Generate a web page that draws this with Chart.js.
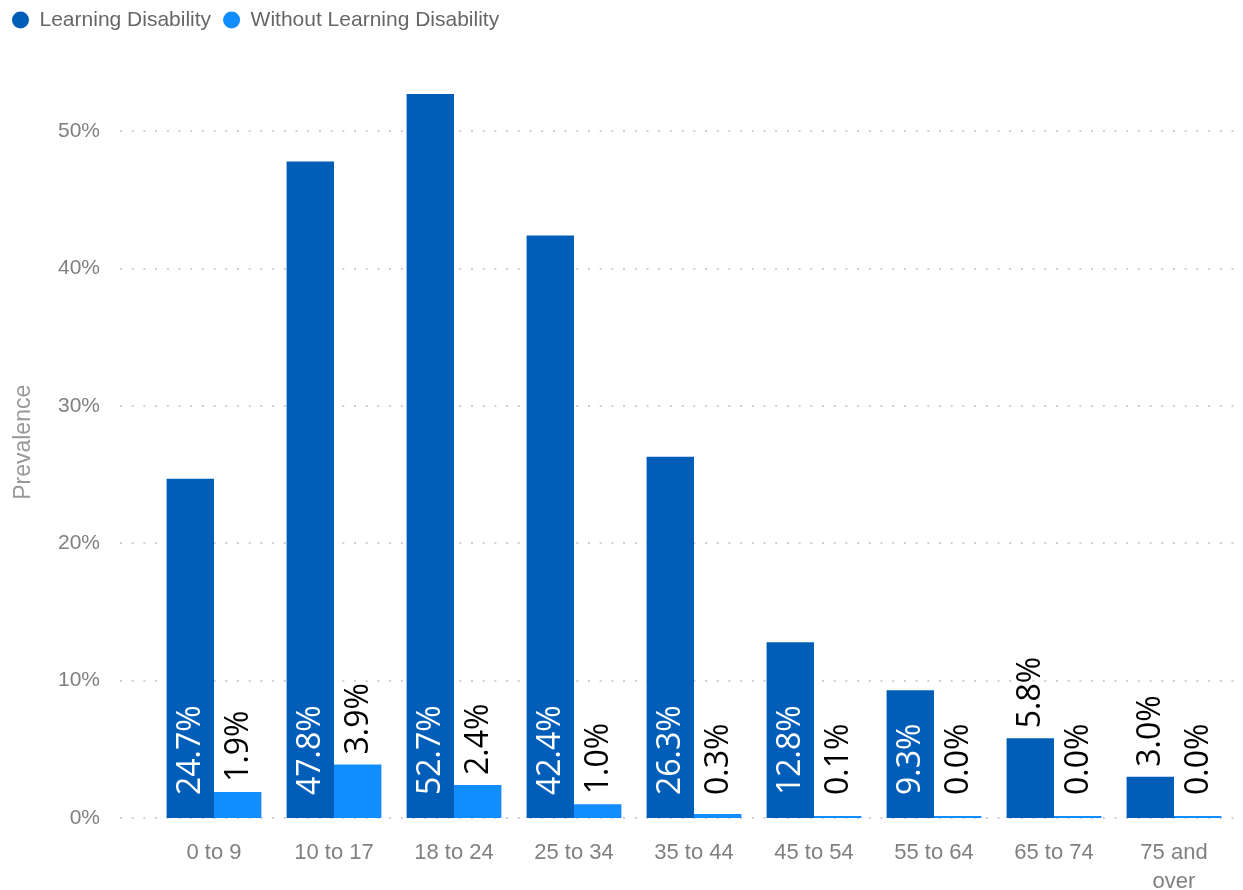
<!DOCTYPE html>
<html>
<head>
<meta charset="utf-8">
<script src="https://cdn.jsdelivr.net/npm/chart.js@4"></script>
<style>
  html, body { margin: 0; padding: 0; background: #ffffff; }
  #wrap { width: 1243px; height: 890px; position: relative; }
</style>
</head>
<body>
<div id="wrap"><canvas id="c" width="1243" height="890"></canvas></div>
<script>
const categories = ['0 to 9', '10 to 17', '18 to 24', '25 to 34', '35 to 44', '45 to 54', '55 to 64', '65 to 74', ['75 and', 'over']];
const withLD = [24.7, 47.8, 52.7, 42.4, 26.3, 12.8, 9.3, 5.8, 3.0];
const withoutLD = [1.9, 3.9, 2.4, 1.0, 0.3, 0.1, 0.0, 0.0, 0.0];
const seriesNames = ['Learning Disability', 'Without Learning Disability'];
const yTicks = [0, 10, 20, 30, 40, 50];

const DARK = '#005EB8';
const LIGHT = '#118DFF';

const legendHeightPlugin = {
  id: 'legendHeight',
  beforeInit(chart) {
    const lg = chart.legend;
    if (lg) {
      const origFit = lg.fit.bind(lg);
      lg.fit = function () { origFit(); this.height = 58; };
      const origDraw = lg.draw.bind(lg);
      lg.draw = function () {
        const ctx = this.ctx;
        ctx.save();
        ctx.translate(0, -11);
        origDraw();
        ctx.restore();
      };
    }
  }
};

const dottedGridPlugin = {
  id: 'dottedGrid',
  beforeDatasetsDraw(chart) {
    const ctx = chart.ctx;
    const ys = chart.scales.y;
    ctx.save();
    ctx.strokeStyle = '#d0d0d0';
    ctx.lineWidth = 2;
    ctx.setLineDash([2, 9.7]);
    yTicks.forEach(v => {
      const y = Math.round(ys.getPixelForValue(v));
      ctx.beginPath();
      ctx.moveTo(120, y);
      ctx.lineTo(chart.chartArea.right, y);
      ctx.stroke();
    });
    ctx.restore();
  }
};

const labelPlugin = {
  id: 'barLabels',
  afterDatasetsDraw(chart) {
    const ctx = chart.ctx;
    ctx.save();
    ctx.font = '32px "Open Sans"';
    ctx.textBaseline = 'middle';
    ctx.textAlign = 'left';
    chart.data.datasets.forEach((ds, di) => {
      const meta = chart.getDatasetMeta(di);
      meta.data.forEach((bar, i) => {
        const txt = ds.data[i].toFixed(1) + '%';
        const w = ctx.measureText(txt).width;
        const base = bar.base;
        const top = bar.y;
        const insideStart = base - 23;
        const fits = (base - top) >= w + 23 + 6;
        let start, color;
        if (fits) {
          start = insideStart; color = '#ffffff';
        } else {
          start = Math.min(insideStart, top - 10); color = '#000000';
        }
        ctx.save();
        ctx.translate(bar.x + 1, start);
        ctx.rotate(-Math.PI / 2);
        ctx.fillStyle = color;
        ctx.fillText(txt, 0, 0);
        ctx.restore();
      });
    });
    ctx.restore();
  }
};

new Chart(document.getElementById('c'), {
  type: 'bar',
  data: {
    labels: categories,
    datasets: [
      { label: seriesNames[0], data: withLD, backgroundColor: DARK, borderWidth: 0,
        categoryPercentage: 0.79, barPercentage: 1.0 },
      { label: seriesNames[1], data: withoutLD, backgroundColor: LIGHT, borderWidth: 0,
        categoryPercentage: 0.79, barPercentage: 1.0, minBarLength: 2 }
    ]
  },
  options: {
    responsive: false,
    animation: false,
    devicePixelRatio: 1,
    layout: { padding: { left: 0, right: 9, top: 0, bottom: 0 } },
    plugins: {
      legend: {
        position: 'top',
        align: 'start',
        labels: {
          usePointStyle: true,
          pointStyle: 'circle',
          boxHeight: 12,
          pointStyleWidth: 17,
          padding: 12,
          color: '#666666',
          font: { family: '"Liberation Sans", Arial, sans-serif', size: 21 }
        }
      },
      tooltip: { enabled: false }
    },
    scales: {
      x: {
        grid: { display: false, drawTicks: false },
        border: { display: false },
        ticks: {
          color: '#808080',
          padding: 21,
          maxRotation: 0,
          autoSkip: false,
          font: { family: '"Liberation Sans", Arial, sans-serif', size: 22, lineHeight: 1.3 }
        },
        afterFit(scale) { scale.height = 72; }
      },
      y: {
        min: 0,
        max: 54.7,
        grid: { display: false, drawTicks: false },
        border: { display: false },
        ticks: {
          stepSize: 10,
          color: '#808080',
          padding: 54,
          font: { family: '"Liberation Sans", Arial, sans-serif', size: 21 },
          callback: v => v + '%'
        },
        afterBuildTicks(scale) {
          scale.ticks = yTicks.map(v => ({ value: v }));
        },
        title: {
          display: true,
          text: 'Prevalence',
          color: '#999999',
          padding: { top: 10, bottom: 0 },
          font: { family: '"Liberation Sans", Arial, sans-serif', size: 23 }
        },
        afterFit(scale) { scale.width = 154; }
      }
    }
  },
  plugins: [legendHeightPlugin, dottedGridPlugin, labelPlugin]
});
</script>
</body>
</html>
